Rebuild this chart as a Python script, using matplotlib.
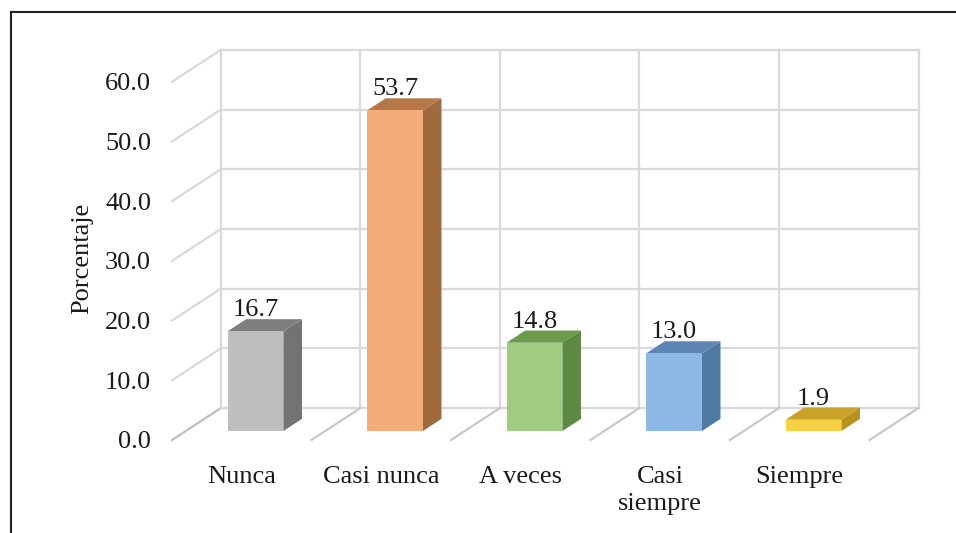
import matplotlib
matplotlib.use("Agg")
import matplotlib.pyplot as plt
from matplotlib.patches import Polygon, Rectangle

# ---- data ----
categories = ["Nunca", "Casi nunca", "A veces", "Casi\nsiempre", "Siempre"]
values = [16.7, 53.7, 14.8, 13.0, 1.9]
value_labels = ["16.7", "53.7", "14.8", "13.0", "1.9"]
y_ticks = [0, 10, 20, 30, 40, 50, 60]
y_tick_labels = ["0.0", "10.0", "20.0", "30.0", "40.0", "50.0", "60.0"]
y_label = "Porcentaje"

# ---- style ----
front_colors = ["#BEBEBE", "#F4AD79", "#A0CC82", "#8DB8E6", "#F6D143"]
side_colors = ["#737373", "#9E6A3E", "#5D8A42", "#5079A2", "#B8921E"]
top_colors = ["#7E7E7E", "#B67849", "#6A9A4A", "#5C85B5", "#C9A22A"]
grid_color = "#D9D9D9"
font = "Liberation Serif"
fs = 19

# oblique "3D" geometry (depth offsets in data units)
dxu = 0.351       # horizontal shift of full depth, in category units
dyu = 5.36        # vertical shift of full depth, in value units
z0, wdep = 0.28, 0.38   # bar front depth and bar depth (fractions)
bw = 0.40               # bar width (category units)
ymax = 60

plt.rcParams["font.family"] = [font, "DejaVu Serif"]

fig = plt.figure(figsize=(9.56, 5.33), dpi=100)
ax = fig.add_axes([172 / 956, (533 - 440) / 533, (918.5 - 172) / 956, (440 - 49.8) / 533])
n = len(categories)
ax.set_xlim(0, n + dxu)
ax.set_ylim(0, ymax + dyu)
for s in ax.spines.values():
    s.set_visible(False)

# back wall horizontal gridlines and left wall diagonals
for t in y_ticks:
    ax.plot([dxu, n + dxu], [t + dyu, t + dyu], color=grid_color, lw=1.6, zorder=1,
            clip_on=False)
    ax.plot([0, dxu], [t, t + dyu], color="#BFBFBF" if t == 0 else grid_color,
            lw=1.6, zorder=1, clip_on=False)
# back wall verticals and floor diagonals
for i in range(n + 1):
    ax.plot([i + dxu, i + dxu], [dyu, ymax + dyu], color=grid_color, lw=1.6, zorder=1,
            clip_on=False)
    if i > 0:
        ax.plot([i, i + dxu], [0, dyu], color="#C8C8C8", lw=1.6, zorder=1, clip_on=False)

# bars
for i, v in enumerate(values):
    xl = i + 0.5 - bw / 2 + z0 * dxu
    xr = xl + bw
    yb = z0 * dyu
    yt = yb + v
    ddx, ddy = wdep * dxu, wdep * dyu
    ax.add_patch(Polygon([(xr, yb), (xr + ddx, yb + ddy), (xr + ddx, yt + ddy), (xr, yt)],
                         closed=True, facecolor=side_colors[i], edgecolor="none", zorder=3))
    ax.add_patch(Polygon([(xl, yt), (xr, yt), (xr + ddx, yt + ddy), (xl + ddx, yt + ddy)],
                         closed=True, facecolor=top_colors[i], edgecolor="none", zorder=3))
    ax.add_patch(Rectangle((xl, yb), bw, v, facecolor=front_colors[i], edgecolor="none",
                           zorder=4))
    ax.text((xl + xr) / 2, yt + ddy + 0.5, value_labels[i], ha="center",
            va="baseline", fontsize=fs, color="#1a1a1a", zorder=5)

# axes ticks
ax.set_yticks(y_ticks)
ax.set_yticklabels(y_tick_labels, fontsize=fs, color="#1a1a1a")
ax.set_xticks([i + 0.5 for i in range(n)])
ax.set_xticklabels(categories, fontsize=fs, color="#1a1a1a", linespacing=1.3)
ax.tick_params(axis="y", length=0, pad=15)
ax.tick_params(axis="x", length=0, pad=19)
ax.set_ylabel(y_label, fontsize=fs, color="#1a1a1a")
ax.yaxis.set_label_coords(-0.106, 0.466)

# outer frame (top and left edges visible in the reference)
fig.add_artist(plt.Line2D([10.5 / 956, 1.0], [1 - 11.5 / 533, 1 - 11.5 / 533],
                          transform=fig.transFigure, color="#222222", lw=1.5))
fig.add_artist(plt.Line2D([10.5 / 956, 10.5 / 956], [0, 1 - 11.5 / 533],
                          transform=fig.transFigure, color="#222222", lw=1.5))

fig.savefig("out.png", dpi=100)
